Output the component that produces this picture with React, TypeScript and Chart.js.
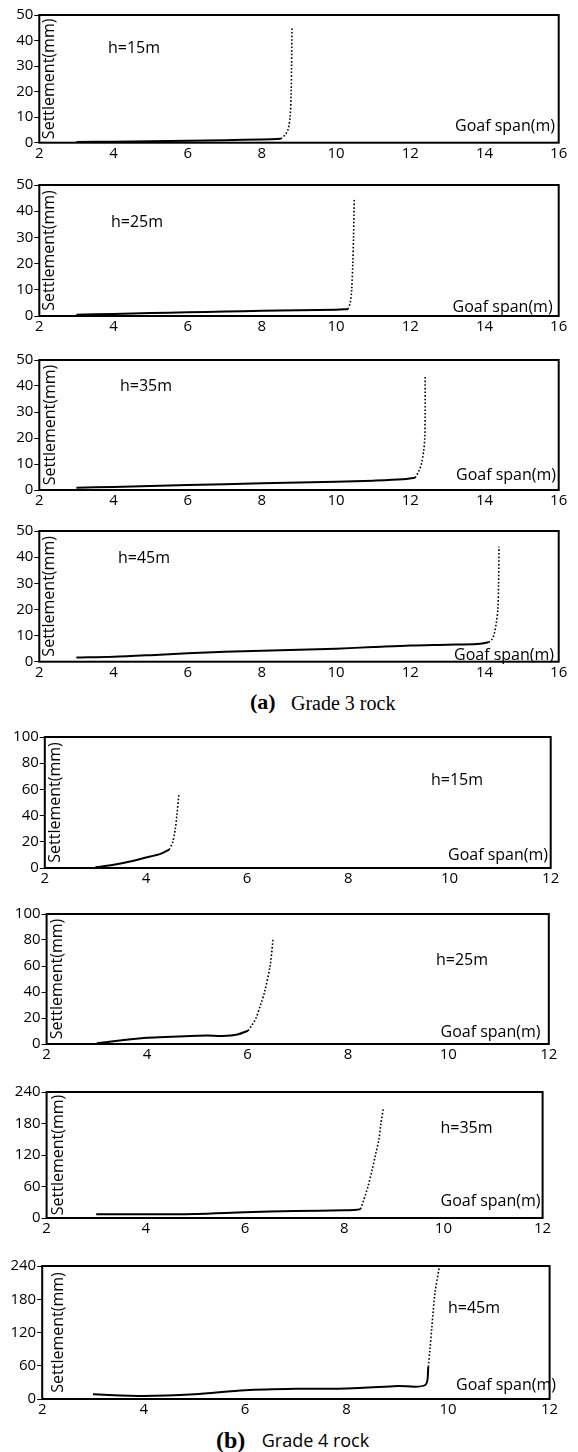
import React, { useEffect, useRef } from "react";
import { Chart, registerables } from "chart.js";
Chart.register(...registerables);

// ---------- (a) Grade 3 rock ----------
const g3h15SolidX = [3, 4, 5, 6, 7, 8, 8.51];
const g3h15SolidY = [0.3, 0.4, 0.6, 0.8, 1.0, 1.3, 1.5];
const g3h15DotX = [8.51, 8.62, 8.7, 8.76, 8.79, 8.8, 8.81];
const g3h15DotY = [1.5, 3, 5, 10, 20, 30, 45];

const g3h25SolidX = [3, 4, 5, 6, 7, 8, 9, 10, 10.32];
const g3h25SolidY = [0.5, 0.8, 1.1, 1.4, 1.7, 2.0, 2.2, 2.4, 2.6];
const g3h25DotX = [10.32, 10.38, 10.42, 10.45, 10.47, 10.49];
const g3h25DotY = [2.6, 5, 10, 20, 30, 45];

const g3h35SolidX = [3, 4, 6, 8, 10, 11, 11.8, 12.13];
const g3h35SolidY = [0.9, 1.2, 1.9, 2.6, 3.2, 3.6, 4.1, 4.7];
const g3h35DotX = [12.13, 12.22, 12.3, 12.36, 12.39, 12.4, 12.4];
const g3h35DotY = [4.7, 7, 10, 15, 20, 30, 44];

const g3h45SolidX = [3, 4, 5, 6, 7, 8, 9, 10, 11, 12, 13, 13.8, 14.11];
const g3h45SolidY = [1.6, 1.9, 2.5, 3.2, 3.8, 4.2, 4.6, 5.0, 5.6, 6.2, 6.5, 6.8, 7.4];
const g3h45DotX = [14.11, 14.2, 14.26, 14.32, 14.36, 14.38, 14.39];
const g3h45DotY = [7.4, 8.5, 10.5, 15, 20, 30, 44];

// ---------- (b) Grade 4 rock ----------
const g4h15SolidX = [3, 3.5, 4, 4.3, 4.46];
const g4h15SolidY = [0.5, 3.5, 8, 11, 14];
const g4h15DotX = [4.46, 4.53, 4.58, 4.61, 4.65];
const g4h15DotY = [14, 20, 30, 40, 56];

const g4h25SolidX = [3, 3.5, 4, 4.5, 5, 5.2, 5.5, 5.8, 6.01];
const g4h25SolidY = [0.5, 2.8, 4.8, 5.6, 6.3, 6.5, 6.2, 7.3, 10.2];
const g4h25DotX = [6.01, 6.08, 6.17, 6.26, 6.34, 6.45, 6.51];
const g4h25DotY = [10.2, 14, 20, 30, 40, 60, 81];

const g4h35SolidX = [3, 4, 5, 6, 7, 8, 8.25, 8.33];
const g4h35SolidY = [7, 7, 7.6, 10.8, 13.3, 14.6, 15.5, 17];
const g4h35DotX = [8.33, 8.38, 8.43, 8.48, 8.56, 8.63, 8.7, 8.74, 8.79];
const g4h35DotY = [17, 30, 45, 60, 90, 120, 150, 180, 209];

const g4h45SolidX = [3, 4, 5, 6, 7, 8, 9, 9.55, 9.61];
const g4h45SolidY = [8.6, 5.5, 8.6, 16, 18.5, 18.9, 23.4, 25.3, 58];
const g4h45DotX = [9.61, 9.64, 9.68, 9.74, 9.83];
const g4h45DotY = [58, 88, 130, 191, 240];

const heightLabels = ["h=15m", "h=25m", "h=35m", "h=45m"];
const xTitle = "Goaf span(m)";
const yTitle = "Settlement(mm)";

type Box = { l: number; r: number; t: number; b: number };
type PanelCfg = {
  sx: number[]; sy: number[]; dx: number[]; dy: number[];
  xMax: number; yMax: number; yStep: number; label: string;
  box: Box; hx: number; hy: number; gx: number; gy: number; stx: number;
};

const PANELS: PanelCfg[] = [
  { sx: g3h15SolidX, sy: g3h15SolidY, dx: g3h15DotX, dy: g3h15DotY, xMax: 16, yMax: 50, yStep: 10, label: heightLabels[0],
    box: { l: 39.3, r: 558.7, t: 15, b: 142.7 }, hx: 108, hy: 48, gx: 455, gy: 126, stx: 49.6 },
  { sx: g3h25SolidX, sy: g3h25SolidY, dx: g3h25DotX, dy: g3h25DotY, xMax: 16, yMax: 50, yStep: 10, label: heightLabels[1],
    box: { l: 39.3, r: 558.7, t: 185, b: 316 }, hx: 111, hy: 222, gx: 452.6, gy: 307, stx: 49.6 },
  { sx: g3h35SolidX, sy: g3h35SolidY, dx: g3h35DotX, dy: g3h35DotY, xMax: 16, yMax: 50, yStep: 10, label: heightLabels[2],
    box: { l: 39.3, r: 558.7, t: 360, b: 490 }, hx: 120, hy: 386, gx: 456, gy: 475, stx: 50.7 },
  { sx: g3h45SolidX, sy: g3h45SolidY, dx: g3h45DotX, dy: g3h45DotY, xMax: 16, yMax: 50, yStep: 10, label: heightLabels[3],
    box: { l: 39.3, r: 558.7, t: 531, b: 661.7 }, hx: 118, hy: 558, gx: 454, gy: 655, stx: 49.6 },
  { sx: g4h15SolidX, sy: g4h15SolidY, dx: g4h15DotX, dy: g4h15DotY, xMax: 12, yMax: 100, yStep: 20, label: heightLabels[0],
    box: { l: 44.8, r: 550.7, t: 737, b: 868 }, hx: 431, hy: 780, gx: 448, gy: 855, stx: 55 },
  { sx: g4h25SolidX, sy: g4h25SolidY, dx: g4h25DotX, dy: g4h25DotY, xMax: 12, yMax: 100, yStep: 20, label: heightLabels[1],
    box: { l: 46.6, r: 548.8, t: 914, b: 1044 }, hx: 436, hy: 960, gx: 440.5, gy: 1032, stx: 57 },
  { sx: g4h35SolidX, sy: g4h35SolidY, dx: g4h35DotX, dy: g4h35DotY, xMax: 12, yMax: 240, yStep: 60, label: heightLabels[2],
    box: { l: 46.6, r: 542.6, t: 1092, b: 1218 }, hx: 440.5, hy: 1128, gx: 440.5, gy: 1201, stx: 58.7 },
  { sx: g4h45SolidX, sy: g4h45SolidY, dx: g4h45DotX, dy: g4h45DotY, xMax: 12, yMax: 240, yStep: 60, label: heightLabels[3],
    box: { l: 42.2, r: 549.6, t: 1266, b: 1399 }, hx: 448, hy: 1308, gx: 456, gy: 1385, stx: 58.7 },
];

const FONT = '"Open Sans", "DejaVu Sans", sans-serif';
const W = 578;
const TOP_PAD = 14;
const BOTTOM_PAD = 26;

function Panel({ cfg }: { cfg: PanelCfg }) {
  const ref = useRef<HTMLCanvasElement | null>(null);
  const canvasTop = cfg.box.t - TOP_PAD;
  const canvasH = Math.round(cfg.box.b - cfg.box.t + TOP_PAD + BOTTOM_PAD);

  useEffect(() => {
    if (!ref.current) return;
    const box = cfg.box;
    const overlay = {
      id: "overlay",
      afterDatasetsDraw(chart: any) {
        const ctx = chart.ctx;
        const a = chart.chartArea;
        ctx.save();
        ctx.strokeStyle = "#000";
        ctx.lineWidth = 2;
        ctx.strokeRect(a.left, a.top, a.right - a.left, a.bottom - a.top);
        ctx.fillStyle = "#000";
        ctx.font = `16px ${FONT}`;
        ctx.textBaseline = "middle";
        ctx.textAlign = "left";
        ctx.fillText(cfg.label, cfg.hx, cfg.hy - canvasTop);
        ctx.fillText(xTitle, cfg.gx, cfg.gy - canvasTop);
        ctx.translate(cfg.stx, (a.top + a.bottom) / 2);
        ctx.rotate(-Math.PI / 2);
        ctx.textAlign = "center";
        ctx.fillText(yTitle, 0, 0);
        ctx.restore();
      },
    };
    const chart = new Chart(ref.current, {
      type: "line",
      data: {
        datasets: [
          {
            data: cfg.sx.map((x, i) => ({ x, y: cfg.sy[i] })),
            borderColor: "#000",
            borderWidth: 2,
            pointRadius: 0,
            tension: 0.3,
            fill: false,
          },
          {
            data: cfg.dx.map((x, i) => ({ x, y: cfg.dy[i] })),
            borderColor: "#000",
            borderWidth: 1.6,
            borderDash: [1.6, 2],
            borderCapStyle: "butt",
            pointRadius: 0,
            tension: 0.3,
            fill: false,
          },
        ],
      },
      options: {
        responsive: false,
        animation: false,
        devicePixelRatio: 1,
        layout: { padding: { left: 0, right: W - box.r, top: box.t - canvasTop, bottom: 0 } },
        plugins: { legend: { display: false }, tooltip: { enabled: false } },
        scales: {
          x: {
            type: "linear",
            min: 2,
            max: cfg.xMax,
            border: { display: false },
            grid: { display: false, drawTicks: false },
            ticks: { stepSize: 2, autoSkip: false, maxRotation: 0, color: "#000", padding: 2, font: { family: FONT, size: 15 } },
            afterFit: (s: any) => { s.height = canvasH - (box.b - canvasTop); },
          },
          y: {
            type: "linear",
            min: 0,
            max: cfg.yMax,
            border: { display: false },
            grid: { drawOnChartArea: false, drawTicks: true, tickLength: 5, color: "#000" },
            ticks: { stepSize: cfg.yStep, autoSkip: false, color: "#000", padding: 1, font: { family: FONT, size: 15 } },
            afterFit: (s: any) => { s.width = box.l; },
          },
        },
      },
      plugins: [overlay],
    } as any);
    return () => chart.destroy();
  }, [cfg]);

  return (
    <canvas
      ref={ref}
      width={W}
      height={canvasH}
      style={{ position: "absolute", left: 0, top: canvasTop, width: W, height: canvasH }}
    />
  );
}

const serif = '"Liberation Serif", "Times New Roman", serif';

export default function App() {
  return (
    <div style={{ position: "absolute", left: 0, top: 0, width: W, height: 1452, background: "#fff", overflow: "hidden" }}>
      {PANELS.map((p, i) => (
        <Panel key={i} cfg={p} />
      ))}
      <div style={{ position: "absolute", left: 250, top: 691, font: `bold 22px ${serif}`, lineHeight: "22px", whiteSpace: "pre" }}>(a)</div>
      <div style={{ position: "absolute", left: 291, top: 693, font: `20px ${serif}`, lineHeight: "20px", whiteSpace: "pre" }}>Grade 3 rock</div>
      <div style={{ position: "absolute", left: 216, top: 1428, font: `bold 24px ${serif}`, lineHeight: "24px", whiteSpace: "pre" }}>(b)</div>
      <div style={{ position: "absolute", left: 261.7, top: 1430.7, font: `18px ${FONT}`, lineHeight: "18px", whiteSpace: "pre" }}>Grade 4 rock</div>
    </div>
  );
}
